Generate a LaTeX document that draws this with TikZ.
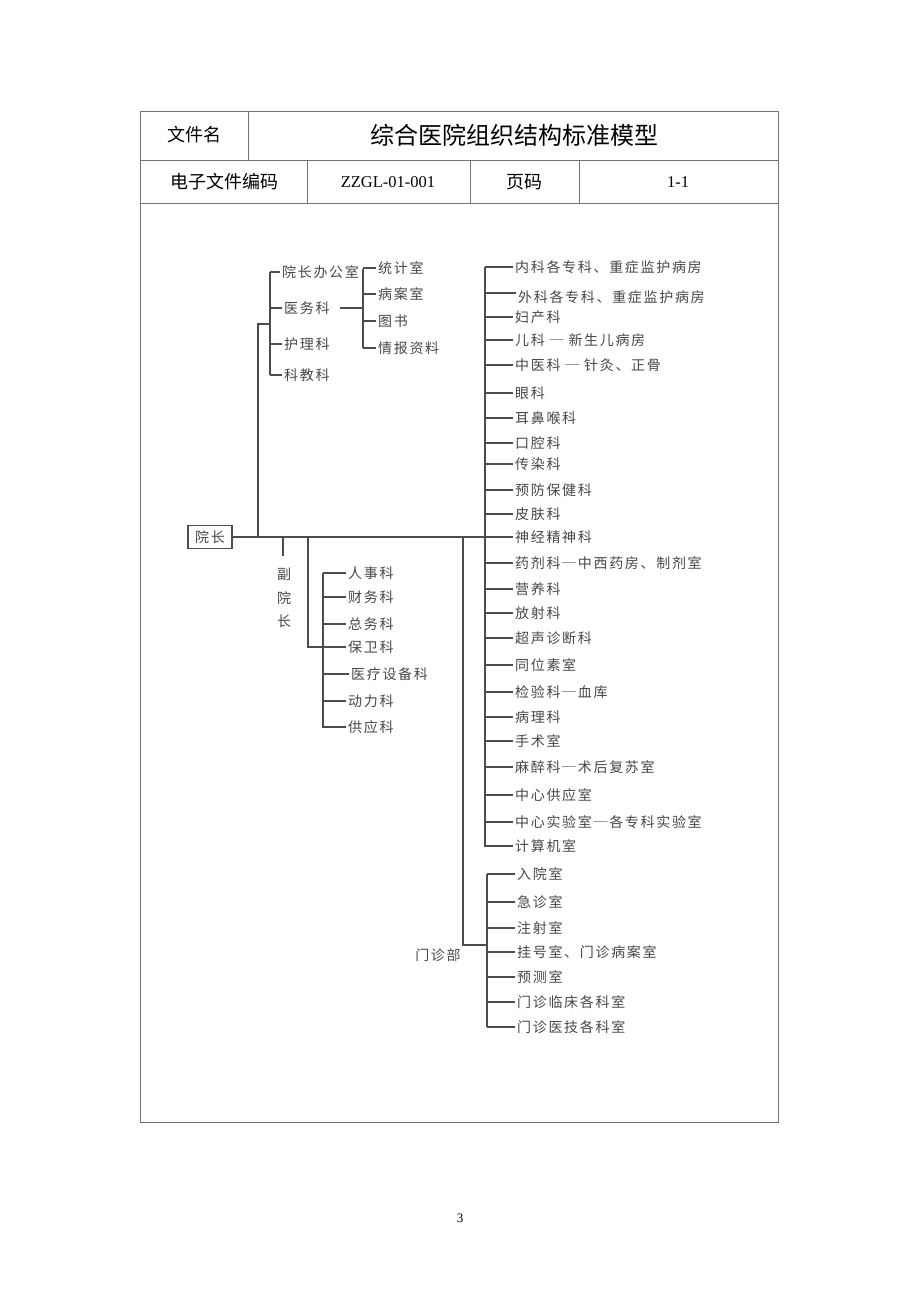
\documentclass[tikz,border=0pt]{standalone}
\usepackage{fontspec}
\setmainfont{Liberation Serif}
\newfontfamily\cjk[LetterSpace=12]{Noto Sans CJK SC}
\newfontfamily\hei{Noto Sans CJK SC}
\tikzset{
  item/.style={anchor=west, inner xsep=2pt, inner ysep=0pt, text=black!72,
    font=\cjk\fontsize{14}{14}\selectfont},
  conn/.style={draw=black!70, line width=1.6pt},
  frame/.style={draw=black!55, line width=1pt},
  head/.style={inner sep=0pt, font=\hei\fontsize{18}{18}\selectfont},
}
\begin{document}
\begin{tikzpicture}[x=1pt, y=-1pt]
        \useasboundingbox (0,0) rectangle (920,1302);

        % header table
        \draw[frame] (140,111) rectangle (778,1122);
        \draw[frame] (140,160) -- (778,160);
        \draw[frame] (140,203) -- (778,203);
        \draw[frame] (248,111) -- (248,160);
        \draw[frame] (307,160) -- (307,203);
        \draw[frame] (470,160) -- (470,203);
        \draw[frame] (579,160) -- (579,203);
        \node[head] at (194,135) (fname) {文件名};
        \node[head, font=\hei\fontsize{24}{24}\selectfont] at (514,135) (title) {综合医院组织结构标准模型};
        \node[head] at (224,182) (code) {电子文件编码};
        \node[head, font=\fontsize{16.5}{16.5}\selectfont] at (388,182) (codev) {ZZGL-01-001};
        \node[head] at (524,182) (page) {页码};
        \node[head, font=\fontsize{16.5}{16.5}\selectfont] at (678,182) (pagev) {1-1};
        \node[inner sep=0pt, font=\fontsize{13}{13}\selectfont] at (460,1218) (pno) {3};

        % root
        \node[draw=black!70, line width=1.8pt, minimum width=44pt, minimum height=23pt,
          inner sep=0pt, text=black!72, font=\cjk\fontsize{14}{14}\selectfont] at (210,537) (boss) {院长};
        \coordinate (J1) at (258,537);
        \coordinate (J2) at (283,537);
        \coordinate (J3) at (308,537);
        \coordinate (J4) at (463,537);
        \coordinate (J5) at (485,537);
        \draw[conn] (boss.east) -- (J5);

        % upper left branch
        \coordinate (Aroot) at (258,324);
        \coordinate (Atop) at (270,272);
        \coordinate (Abot) at (270,375);
        \node[item] at (280,272) (off) {院长办公室};
        \node[item] at (282,308) (med) {医务科};
        \node[item] at (282,344) (nurse) {护理科};
        \node[item] at (282,375) (edu) {科教科};
        \draw[conn] (J1) -- (Aroot) -- (Aroot -| Atop);
        \draw[conn] (Atop) -- (Abot);
        \draw[conn] (off.west -| Atop) -- (off.west);
        \draw[conn] (med.west -| Atop) -- (med.west);
        \draw[conn] (nurse.west -| Atop) -- (nurse.west);
        \draw[conn] (edu.west -| Atop) -- (edu.west);

        \coordinate (Bstart) at (340,308);
        \coordinate (Bmid) at (363,308);
        \coordinate (Btop) at (363,269);
        \coordinate (Bbot) at (363,348);
        \node[item] at (376,268) (stat) {统计室};
        \node[item] at (376,294) (cases) {病案室};
        \node[item] at (376,321) (lib) {图书};
        \node[item] at (376,348) (info) {情报资料};
        \draw[conn] (Bstart) -- (Bmid);
        \draw[conn] (Btop) -- (Bbot);
        \draw[conn] (stat.west -| Btop) -- (stat.west);
        \draw[conn] (cases.west -| Btop) -- (cases.west);
        \draw[conn] (lib.west -| Btop) -- (lib.west);
        \draw[conn] (info.west -| Btop) -- (info.west);

        % vice
        \coordinate (Vend) at (283,556);
        \node[text=black!72, font=\cjk\fontsize{14}{23.5}\selectfont, align=center, inner sep=0pt]
          at (284,598) (vice) {副\\院\\长};
        \draw[conn] (J2) -- (Vend);

        % admin branch
        \coordinate (Croot) at (308,647);
        \coordinate (Ctop) at (323,573);
        \coordinate (Cbot) at (323,728);
        \node[item] at (346,573) (hr) {人事科};
        \node[item] at (346,597) (fin) {财务科};
        \node[item] at (346,624) (gen) {总务科};
        \node[item] at (346,647) (sec) {保卫科};
        \node[item] at (349,674) (equip) {医疗设备科};
        \node[item] at (346,701) (power) {动力科};
        \node[item] at (346,727) (supply) {供应科};
        \draw[conn] (J3) -- (Croot) -- (Croot -| Ctop);
        \draw[conn] (Ctop) -- (Cbot);
        \draw[conn] (hr.west -| Ctop) -- (hr.west);
        \draw[conn] (fin.west -| Ctop) -- (fin.west);
        \draw[conn] (gen.west -| Ctop) -- (gen.west);
        \draw[conn] (sec.west -| Ctop) -- (sec.west);
        \draw[conn] (equip.west -| Ctop) -- (equip.west);
        \draw[conn] (power.west -| Ctop) -- (power.west);
        \draw[conn] (supply.west -| Ctop) -- (supply.west);

        % clinical branch
        \coordinate (Etop) at (485,267);
        \coordinate (Ebot) at (485,847);
        \node[item] at (513,267) (e1) {内科各专科、重症监护病房};
        \node[item] at (516,297) (e2) {外科各专科、重症监护病房};
        \node[item] at (513,317) (e3) {妇产科};
        \node[item] at (513,340) (e4) {儿科 ─ 新生儿病房};
        \node[item] at (513,365) (e5) {中医科 ─ 针灸、正骨};
        \node[item] at (513,393) (e6) {眼科};
        \node[item] at (513,418) (e7) {耳鼻喉科};
        \node[item] at (513,443) (e8) {口腔科};
        \node[item] at (513,464) (e9) {传染科};
        \node[item] at (513,490) (e10) {预防保健科};
        \node[item] at (513,514) (e11) {皮肤科};
        \node[item] at (513,537) (e12) {神经精神科};
        \node[item] at (513,563) (e13) {药剂科─中西药房、制剂室};
        \node[item] at (513,589) (e14) {营养科};
        \node[item] at (513,613) (e15) {放射科};
        \node[item] at (513,638) (e16) {超声诊断科};
        \node[item] at (513,665) (e17) {同位素室};
        \node[item] at (513,692) (e18) {检验科─血库};
        \node[item] at (513,717) (e19) {病理科};
        \node[item] at (513,741) (e20) {手术室};
        \node[item] at (513,767) (e21) {麻醉科─术后复苏室};
        \node[item] at (513,795) (e22) {中心供应室};
        \node[item] at (513,822) (e23) {中心实验室─各专科实验室};
        \node[item] at (513,846) (e24) {计算机室};
        \draw[conn] (Etop) -- (Ebot);
        \draw[conn] (e1.west -| Etop) -- (e1.west);
        \draw[conn] (Etop |- 0,293) -- (e2.west |- 0,293);
        \draw[conn] (e3.west -| Etop) -- (e3.west);
        \draw[conn] (e4.west -| Etop) -- (e4.west);
        \draw[conn] (e5.west -| Etop) -- (e5.west);
        \draw[conn] (e6.west -| Etop) -- (e6.west);
        \draw[conn] (e7.west -| Etop) -- (e7.west);
        \draw[conn] (e8.west -| Etop) -- (e8.west);
        \draw[conn] (e9.west -| Etop) -- (e9.west);
        \draw[conn] (e10.west -| Etop) -- (e10.west);
        \draw[conn] (e11.west -| Etop) -- (e11.west);
        \draw[conn] (e12.west -| Etop) -- (e12.west);
        \draw[conn] (e13.west -| Etop) -- (e13.west);
        \draw[conn] (e14.west -| Etop) -- (e14.west);
        \draw[conn] (e15.west -| Etop) -- (e15.west);
        \draw[conn] (e16.west -| Etop) -- (e16.west);
        \draw[conn] (e17.west -| Etop) -- (e17.west);
        \draw[conn] (e18.west -| Etop) -- (e18.west);
        \draw[conn] (e19.west -| Etop) -- (e19.west);
        \draw[conn] (e20.west -| Etop) -- (e20.west);
        \draw[conn] (e21.west -| Etop) -- (e21.west);
        \draw[conn] (e22.west -| Etop) -- (e22.west);
        \draw[conn] (e23.west -| Etop) -- (e23.west);
        \draw[conn] (e24.west -| Etop) -- (e24.west);

        % outpatient branch
        \coordinate (Droot) at (463,945);
        \coordinate (Dtop) at (487,874);
        \coordinate (Dbot) at (487,1027);
        \node[text=black!72, font=\cjk\fontsize{14}{14}\selectfont, inner sep=0pt] at (438,955) (opd) {门诊部};
        \node[item] at (515,874) (d1) {入院室};
        \node[item] at (515,902) (d2) {急诊室};
        \node[item] at (515,928) (d3) {注射室};
        \node[item] at (515,952) (d4) {挂号室、门诊病案室};
        \node[item] at (515,977) (d5) {预测室};
        \node[item] at (515,1002) (d6) {门诊临床各科室};
        \node[item] at (515,1027) (d7) {门诊医技各科室};
        \draw[conn] (J4) -- (Droot) -- (Droot -| Dtop);
        \draw[conn] (Dtop) -- (Dbot);
        \draw[conn] (d1.west -| Dtop) -- (d1.west);
        \draw[conn] (d2.west -| Dtop) -- (d2.west);
        \draw[conn] (d3.west -| Dtop) -- (d3.west);
        \draw[conn] (d4.west -| Dtop) -- (d4.west);
        \draw[conn] (d5.west -| Dtop) -- (d5.west);
        \draw[conn] (d6.west -| Dtop) -- (d6.west);
        \draw[conn] (d7.west -| Dtop) -- (d7.west);
      \end{tikzpicture}
\end{document}
